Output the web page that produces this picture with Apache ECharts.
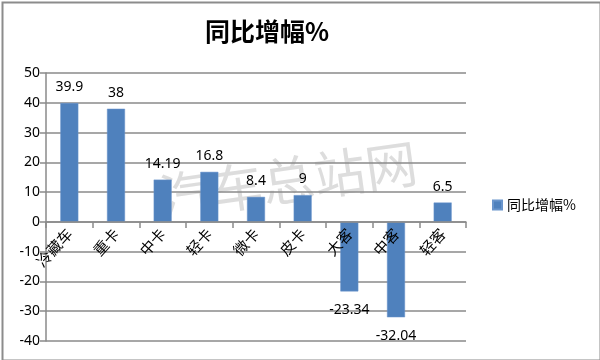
<!DOCTYPE html>
<html><head><meta charset="utf-8">
<script src="https://cdn.jsdelivr.net/npm/echarts@6/dist/echarts.min.js"></script>
<style>html,body{margin:0;padding:0;background:#fff}#c{width:600px;height:360px}</style>
</head><body><div id="c"></div>
<script>
const categories = ['冷藏车','重卡','中卡','轻卡','微卡','皮卡','大客','中客','轻客'];
const values = [39.9, 38, 14.19, 16.8, 8.4, 9, -23.34, -32.04, 6.5];
const seriesName = '同比增幅%';
const titleText = '同比增幅%';
const watermark = '汽车总站网';
const yMin = -40, yMax = 50, yStep = 10;

const gridTop = 73, gridBottom = 19, H = 360;
const plotH = H - gridTop - gridBottom;
const zeroOffset = -plotH * (0 - yMin) / (yMax - yMin);

const chart = echarts.init(document.getElementById('c'), null, {renderer:'canvas'});
const gridColor = '#8a8a8a';
chart.setOption({
  animation:false,
  backgroundColor:'#fff',
  title:{text:titleText, left:262, top:14, textAlign:'center',
    textStyle:{fontFamily:'Noto Sans CJK SC', fontSize:25, fontWeight:'bold', color:'#000'}},
  legend:{data:[seriesName], left:487, top:193, icon:'rect', itemWidth:9, itemHeight:9, itemGap:6,
    textStyle:{fontFamily:'Noto Sans CJK SC', fontSize:14, color:'#000'}},
  grid:{left:46, right:134, top:gridTop, bottom:gridBottom, containLabel:false, outerBoundsMode:'none'},
  xAxis:{type:'category', data:categories, position:'bottom', offset:zeroOffset, z:10,
    axisLine:{onZero:false, lineStyle:{color:gridColor, width:1.5}},
    axisTick:{show:true, length:6, lineStyle:{color:gridColor, width:1.5}},
    axisLabel:{rotate:48, margin:9, fontFamily:'Noto Sans CJK SC', fontSize:15, color:'#000', interval:0}},
  yAxis:{type:'value', min:yMin, max:yMax, interval:yStep,
    axisLine:{show:true, lineStyle:{color:gridColor, width:1.5}},
    axisTick:{show:true, length:6, lineStyle:{color:gridColor, width:1.5}},
    axisLabel:{margin:6, fontFamily:'Noto Sans', fontSize:14, color:'#000'},
    splitLine:{lineStyle:{color:gridColor, width:1.5}}},
  graphic:[
    {type:'rect', left:0, top:0, z:100, shape:{x:1,y:1,width:598,height:358}, style:{fill:null, stroke:'#8c8c8c', lineWidth:2}, silent:true},
    {type:'text', x:288, y:180, rotation:8*Math.PI/180, z:-1,
      style:{text:watermark, fill:'rgba(180,180,180,0.45)', font:'52px "Noto Sans CJK SC"', align:'center', verticalAlign:'middle'}}
  ],
  series:[{
    name:seriesName, type:'bar', barWidth:18,
    itemStyle:{color:'#4f81bd', borderColor:'#6a95cc', borderWidth:0.5},
    label:{show:true, position:'top', distance:9, fontFamily:'Noto Sans', fontSize:14, color:'#000'},
    data: values.map(v => v < 0 ? {value:v, label:{position:'bottom', distance:12}} : v)
  }]
});
</script></body></html>
